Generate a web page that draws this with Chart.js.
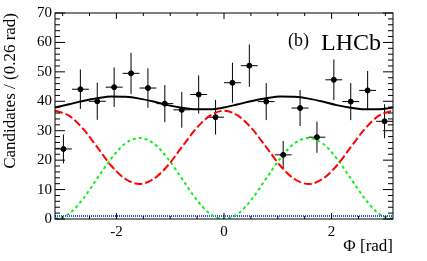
<!DOCTYPE html>
<html>
<head>
<meta charset="utf-8">
<script src="https://cdn.jsdelivr.net/npm/chart.js@4/dist/chart.umd.min.js"></script>
<style>
  html, body { margin: 0; padding: 0; background: #fff; }
  #wrap { width: 427px; height: 261px; }
</style>
</head>
<body>
<div id="wrap"><canvas id="phiChart" width="427" height="261"></canvas></div>
<script>
// binned data (bin centres in rad, candidates per bin, error)
const phiCenters = [-2.985, -2.670, -2.356, -2.042, -1.728, -1.414, -1.100, -0.785, -0.471, -0.157,
                    0.157, 0.471, 0.785, 1.100, 1.414, 1.728, 2.042, 2.356, 2.670, 2.985];
const candidates = [23.8, 44.1, 40.0, 44.8, 49.5, 44.5, 39.2, 37.1, 42.3, 34.6,
                    46.3, 52.1, 39.9, 21.8, 37.7, 27.8, 47.3, 39.9, 43.7, 33.2];
const candErrors = [4.9, 6.7, 6.3, 6.7, 7.0, 6.7, 6.3, 6.1, 6.5, 5.9,
                    6.8, 7.2, 6.3, 4.7, 6.1, 5.3, 6.9, 6.3, 6.6, 5.8];
const binHalfWidth = 0.157;

// fit curves sampled along phi
const phiGrid = [-3.1416, -2.8798, -2.618, -2.3562, -2.0944, -1.8326, -1.5708, -1.309, -1.0472, -0.7854,
                 -0.5236, -0.2618, 0, 0.2618, 0.5236, 0.7854, 1.0472, 1.309, 1.5708, 1.8326,
                 2.0944, 2.3562, 2.618, 2.8798, 3.1416];
const fitTotal = [37.9, 39.0, 40.1, 41.0, 41.6, 41.5, 40.9, 39.9, 38.7, 37.8, 37.3, 37.3, 37.9,
                  39.0, 40.1, 41.0, 41.6, 41.5, 40.9, 39.9, 38.7, 37.8, 37.3, 37.3, 37.9];
const fitRed = [36.8, 35.1, 30.6, 24.4, 18.1, 13.6, 11.9, 13.6, 18.1, 24.4, 30.6, 35.1, 36.8,
                35.1, 30.6, 24.4, 18.1, 13.6, 11.9, 13.6, 18.1, 24.4, 30.6, 35.1, 36.8];
const fitGreen = [0, 1.8, 6.9, 13.8, 20.6, 25.7, 27.5, 25.7, 20.6, 13.8, 6.9, 1.8, 0,
                  1.8, 6.9, 13.8, 20.6, 25.7, 27.5, 25.7, 20.6, 13.8, 6.9, 1.8, 0];
const fitBlue = [1.0, 1.0, 1.0, 1.0, 1.0, 1.0, 1.0, 1.0, 1.0, 1.0, 1.0, 1.0, 1.0,
                 1.0, 1.0, 1.0, 1.0, 1.0, 1.0, 1.0, 1.0, 1.0, 1.0, 1.0, 1.0];

// axis ticks
const xMajorTicks = [-2, 0, 2];
const xMinorTicks = [-3, -2.5, -1.5, -1, -0.5, 0.5, 1, 1.5, 2.5, 3];
const yMajorTicks = [0, 10, 20, 30, 40, 50, 60, 70];
const yMinorTicks = [2, 4, 6, 8, 12, 14, 16, 18, 22, 24, 26, 28, 32, 34, 36, 38,
                     42, 44, 46, 48, 52, 54, 56, 58, 62, 64, 66, 68];

const serif = "'Liberation Serif', 'Times New Roman', serif";
Chart.defaults.font.family = serif;
Chart.defaults.color = "#000";

function curve(ys) {
    return phiGrid.map((x, i) => ({ x: x, y: ys[i] }));
}

// frame, inward ticks, error bars and labels (ROOT look)
const rootStyle = {
    id: "rootStyle",
    beforeDatasetsDraw(chart) {
        const ctx = chart.ctx;
        const xs = chart.scales.x, ys = chart.scales.y;
        ctx.save();
        ctx.strokeStyle = "#000";
        ctx.lineWidth = 1;
        ctx.beginPath();
        phiCenters.forEach((phi, i) => {
            const px = xs.getPixelForValue(phi);
            const py = ys.getPixelForValue(candidates[i]);
            ctx.moveTo(xs.getPixelForValue(phi - binHalfWidth), py);
            ctx.lineTo(xs.getPixelForValue(phi + binHalfWidth), py);
            ctx.moveTo(px, ys.getPixelForValue(candidates[i] + candErrors[i]));
            ctx.lineTo(px, ys.getPixelForValue(candidates[i] - candErrors[i]));
        });
        ctx.stroke();
        ctx.restore();
    },
    afterDraw(chart) {
        const ctx = chart.ctx;
        const a = chart.chartArea;
        const xs = chart.scales.x, ys = chart.scales.y;
        ctx.save();
        ctx.strokeStyle = "#000";
        ctx.lineWidth = 1;
        ctx.strokeRect(a.left, a.top, a.right - a.left, a.bottom - a.top);

        ctx.beginPath();
        const xTick = (v, len) => {
            const px = xs.getPixelForValue(v);
            ctx.moveTo(px, a.bottom); ctx.lineTo(px, a.bottom - len);
            ctx.moveTo(px, a.top); ctx.lineTo(px, a.top + len);
        };
        const yTick = (v, len) => {
            const py = ys.getPixelForValue(v);
            ctx.moveTo(a.left, py); ctx.lineTo(a.left + len, py);
            ctx.moveTo(a.right, py); ctx.lineTo(a.right - len, py);
        };
        xMajorTicks.forEach(v => xTick(v, 6));
        xMinorTicks.forEach(v => xTick(v, 3));
        yMajorTicks.forEach(v => yTick(v, 10));
        yMinorTicks.forEach(v => yTick(v, 5));
        ctx.stroke();

        ctx.fillStyle = "#000";
        ctx.textBaseline = "alphabetic";
        ctx.font = "18px " + serif;
        ctx.fillText("(b)", 288, 46);
        ctx.font = "24px " + serif;
        ctx.fillText("LHCb", 321, 50);
        ctx.restore();
    }
};

new Chart(document.getElementById("phiChart"), {
    type: "scatter",
    data: {
        datasets: [
            {
                label: "Data",
                data: phiCenters.map((x, i) => ({ x: x, y: candidates[i] })),
                backgroundColor: "#000",
                borderColor: "#000",
                pointRadius: 2.5,
                pointHoverRadius: 2.5
            },
            {
                label: "Total fit",
                type: "line",
                data: curve(fitTotal),
                borderColor: "#000",
                borderWidth: 2,
                pointRadius: 0,
                cubicInterpolationMode: "monotone"
            },
            {
                label: "Component 1",
                type: "line",
                data: curve(fitRed),
                borderColor: "#ff0000",
                borderWidth: 2,
                borderDash: [8, 3],
                pointRadius: 0,
                cubicInterpolationMode: "monotone"
            },
            {
                label: "Component 2",
                type: "line",
                data: curve(fitGreen),
                borderColor: "#11ee11",
                borderWidth: 2,
                borderDash: [3, 3],
                pointRadius: 0,
                cubicInterpolationMode: "monotone"
            },
            {
                label: "Component 3",
                type: "line",
                data: curve(fitBlue),
                borderColor: "#3344ff",
                borderWidth: 2,
                borderDash: [1, 1],
                pointRadius: 0
            }
        ]
    },
    options: {
        responsive: false,
        animation: false,
        events: [],
        layout: { padding: { top: 13, right: 34, left: 0, bottom: 0 } },
        plugins: {
            legend: { display: false },
            tooltip: { enabled: false }
        },
        scales: {
            x: {
                type: "linear",
                min: -3.1416,
                max: 3.1416,
                afterBuildTicks: scale => { scale.ticks = xMajorTicks.map(v => ({ value: v })); },
                afterFit: scale => { scale.height = 42; },
                grid: { display: false, drawTicks: false },
                border: { display: false },
                ticks: {
                    font: { size: 15 },
                    padding: 4,
                    callback: v => String(v)
                },
                title: {
                    display: true,
                    text: "Φ [rad]",
                    align: "end",
                    font: { size: 17 },
                    padding: { top: 0, bottom: 4 }
                }
            },
            y: {
                min: 0,
                max: 70,
                afterBuildTicks: scale => { scale.ticks = yMajorTicks.map(v => ({ value: v })); },
                afterFit: scale => { scale.width = 55; },
                grid: { display: false, drawTicks: false },
                border: { display: false },
                ticks: {
                    font: { size: 15 },
                    padding: 3
                },
                title: {
                    display: true,
                    text: "Candidates / (0.26 rad)",
                    align: "end",
                    font: { size: 17 },
                    padding: { top: 0, bottom: 0 }
                }
            }
        }
    },
    plugins: [rootStyle]
});
</script>
</body>
</html>
